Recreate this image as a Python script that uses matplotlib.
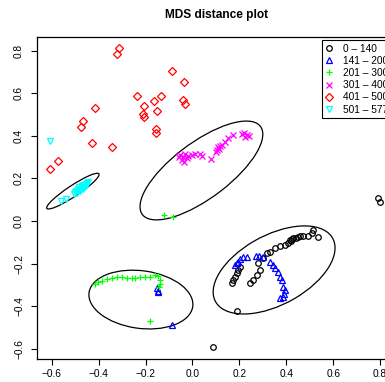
import matplotlib.pyplot as plt
from matplotlib.patches import Ellipse

plt.rcParams['font.family'] = ['Liberation Sans', 'DejaVu Sans']

# groups of the MDS coordinates
g1_x = [0.087, 0.790, 0.800, 0.188,
        0.167, 0.174, 0.181, 0.188, 0.195, 0.203,
        0.245, 0.259, 0.274, 0.288, 0.281, 0.302, 0.316, 0.330, 0.352, 0.373,
        0.394, 0.409, 0.416, 0.430, 0.451, 0.472, 0.494, 0.508, 0.515, 0.536,
        0.420, 0.425, 0.440, 0.460]
g1_y = [-0.590, 0.107, 0.091, -0.421,
        -0.292, -0.277, -0.262, -0.246, -0.230, -0.215,
        -0.292, -0.277, -0.254, -0.230, -0.199, -0.175, -0.152, -0.144, -0.128, -0.117,
        -0.113, -0.102, -0.089, -0.081, -0.074, -0.070, -0.070, -0.058, -0.042, -0.077,
        -0.095, -0.085, -0.078, -0.072]

g2_x = [-0.087, -0.148, -0.151, -0.147,
        0.181, 0.195, 0.203, 0.217, 0.231, 0.188,
        0.271, 0.285, 0.299, 0.330, 0.342, 0.352, 0.366, 0.373, 0.380,
        0.387, 0.394, 0.390, 0.387, 0.373]
g2_y = [-0.488, -0.327, -0.315, -0.333,
        -0.207, -0.191, -0.180, -0.171, -0.171, -0.199,
        -0.164, -0.164, -0.168, -0.191, -0.207, -0.222, -0.238, -0.262, -0.277,
        -0.308, -0.324, -0.343, -0.355, -0.363]

g3_x = [-0.122, -0.082, -0.181,
        -0.416, -0.402, -0.387, -0.366, -0.345, -0.323, -0.302, -0.281, -0.259,
        -0.245, -0.224, -0.203, -0.181, -0.160, -0.146, -0.139, -0.139, -0.142]
g3_y = [0.027, 0.020, -0.469,
        -0.296, -0.285, -0.280, -0.274, -0.269, -0.264, -0.264, -0.266, -0.269,
        -0.269, -0.264, -0.262, -0.262, -0.254, -0.258, -0.277, -0.296, -0.311]

g4_x = [-0.053, -0.042, -0.032, -0.025, -0.046, -0.036, -0.056, -0.018,
        -0.003, 0.011, 0.032, 0.039, 0.078,
        0.103, 0.110, 0.117, 0.125, 0.100, 0.114,
        0.139, 0.153, 0.174, 0.210, 0.220, 0.231, 0.242, 0.224]
g4_y = [0.310, 0.302, 0.315, 0.294, 0.286, 0.278, 0.299, 0.305,
        0.310, 0.313, 0.313, 0.305, 0.290,
        0.333, 0.346, 0.352, 0.357, 0.325, 0.337,
        0.372, 0.388, 0.404, 0.408, 0.415, 0.404, 0.399, 0.396]

g5_x = [-0.313, -0.321, -0.086, -0.038, -0.235, -0.136, -0.165, -0.039, -0.031,
        -0.207, -0.414, -0.153, -0.212, -0.206, -0.468, -0.475, -0.154, -0.154,
        -0.429, -0.345, -0.575, -0.606]
g5_y = [0.811, 0.783, 0.706, 0.654, 0.587, 0.588, 0.563, 0.568, 0.549,
        0.540, 0.531, 0.515, 0.502, 0.487, 0.471, 0.441, 0.432, 0.412,
        0.366, 0.346, 0.283, 0.243]

g6_x = [-0.606, -0.562, -0.541,
        -0.506, -0.500, -0.494, -0.490, -0.484, -0.480, -0.476, -0.470,
        -0.466, -0.462, -0.458, -0.454, -0.450, -0.446, -0.472, -0.488,
        -0.498, -0.482, -0.468, -0.456]
g6_y = [0.376, 0.095, 0.102,
        0.128, 0.136, 0.132, 0.142, 0.146, 0.140, 0.152, 0.156,
        0.150, 0.162, 0.170, 0.166, 0.176, 0.182, 0.164, 0.150,
        0.140, 0.158, 0.168, 0.174]

labels = ['0 \u2013 140', '141 \u2013 200', '201 \u2013 300',
          '301 \u2013 400', '401 \u2013 500', '501 \u2013 577']

# cluster ellipses: centre x, centre y, width, height, angle
ell_cx = [0.348, -0.220, 0.038, -0.510]
ell_cy = [-0.230, -0.369, 0.237, 0.140]
ell_w = [0.582, 0.447, 0.652, 0.275]
ell_h = [0.320, 0.270, 0.254, 0.050]
ell_ang = [32.6, -9.2, 40.3, 36.3]

fig = plt.figure(figsize=(3.85, 3.82), dpi=100)
ax = fig.add_axes([37 / 385, 23 / 382, 360 / 385, 322.3 / 382])

ms = 4
ax.plot(g1_x, g1_y, 'o', ms=ms, mfc='none', mec='black', mew=0.9, ls='none', label=labels[0])
ax.plot(g2_x, g2_y, '^', ms=ms + 0.5, mfc='none', mec='blue', mew=0.9, ls='none', label=labels[1])
ax.plot(g3_x, g3_y, '+', ms=ms + 1, color='#00FF00', mew=0.9, ls='none', label=labels[2])
ax.plot(g4_x, g4_y, 'x', ms=ms, color='#FF00FF', mew=0.9, ls='none', label=labels[3])
ax.plot(g5_x, g5_y, 'D', ms=ms + 0.4, mfc='none', mec='red', mew=0.9, ls='none', label=labels[4])
ax.plot(g6_x, g6_y, 'v', ms=ms + 0.5, mfc='none', mec='#00FFFF', mew=0.9, ls='none', label=labels[5])

for cx, cy, w, h, a in zip(ell_cx, ell_cy, ell_w, ell_h, ell_ang):
    ax.add_patch(Ellipse((cx, cy), w, h, angle=a, fill=False, ec='black', lw=0.9))

ax.set_xlim(-0.663, 0.872)
ax.set_ylim(-0.648, 0.865)
ax.set_xticks([-0.6, -0.4, -0.2, 0.0, 0.2, 0.4, 0.6, 0.8])
ax.set_yticks([-0.6, -0.4, -0.2, 0.0, 0.2, 0.4, 0.6, 0.8])
ax.tick_params(direction='out', length=4.3, width=0.8, labelsize=7.3, pad=3)
ax.tick_params(axis='y', pad=5)
for t in ax.get_yticklabels():
    t.set_rotation(90)
    t.set_va('center')
for s in ax.spines.values():
    s.set_linewidth(0.9)

fig.text(217 / 385, 1 - 15 / 382, 'MDS distance plot', ha='center', va='center',
         fontsize=8.6, fontweight='bold')

leg = ax.legend(loc='upper left', bbox_to_anchor=(321.7 / 385, 1 - 40 / 382),
                bbox_transform=fig.transFigure, borderaxespad=0, fontsize=7.3,
                fancybox=False, edgecolor='black', framealpha=1, borderpad=0.35,
                handlelength=0.8, handletextpad=0.95, labelspacing=0.22)
leg.get_frame().set_linewidth(0.8)

fig.savefig('out.png', dpi=100)
